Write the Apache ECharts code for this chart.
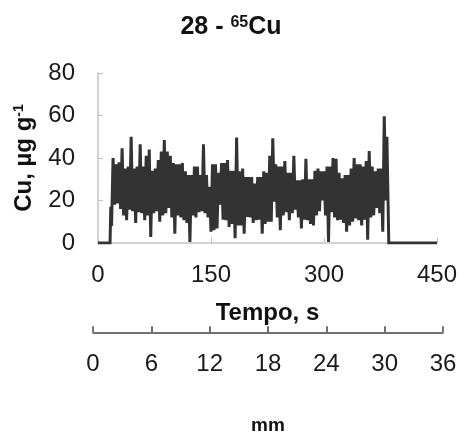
<!DOCTYPE html>
<html>
<head>
<meta charset="utf-8">
<script src="https://cdn.jsdelivr.net/npm/echarts@6/dist/echarts.min.js"></script>
<style>html,body{margin:0;padding:0;background:#fff}#c{width:465px;height:434px}</style>
</head>
<body>
<div id="c"></div>
<script>
// Signal samples (µg g-1)
var leadTimes = [0, 16, 17, 18];
var leadValues = [0, 0, 17, 8];
var sampleStart = 20;   // s, first sample of the oscillating band
var sampleStep = 4;     // s, spacing between successive upper readings
// upper readings at t = 20, 24, ... ; lower readings half a step later
var upperValues = [40,37,38,44.6,35,36,50,35,36,46.5,36,41,44,34,35,39,43,48.5,43,41,
  37.6,37,37,37.6,33.7,32,32,36,36,32,46.5,32,26.5,37,37,33,37.6,37.6,39,34,
  34,49.6,33.7,35,31,31,31,28,31,31,33.7,33,41,49.3,37,36,36,38.6,33,33,
  41,29.5,29.5,30,39.6,30,30,34,35,33.7,33.7,36,36,40,39.6,33,30.4,32,32,35,
  40,37,37,36,38.6,43.3,36,33.7,35,35,59.6];
var lowerValues = [18,18.6,16,13,10.7,15.7,15,9.4,14.5,14,10.7,13,2.8,14,15,10,13,14,16.5,12,
  4.4,13,12,10.7,9.4,0.5,13,12,14.5,15,14,12,5.3,6,6.9,18,11,10.7,7.6,9,
  2.2,8.3,8.3,4.4,12.3,12,9.4,10.7,11,4.4,9,10,10,19.4,12,6,13,14.5,10.7,14,
  15.7,12,6.9,11,10.7,9,8.3,13,15,20,13,0.5,14.5,12,10.7,11,9.4,5.3,8.3,10,
  11.5,10.7,8.3,11,1.5,12,13,16.5,14,5.3,20];
var tailTimes = [383.5, 385, 386, 450];
var tailValues = [50, 20, 0, 0];

var timeTicks = [0, 150, 300, 450];
var mmTicks = [0, 6, 12, 18, 24, 30, 36];
var yTicks = [0, 20, 40, 60, 80];

var data = [];
for (var i = 0; i < leadTimes.length; i++) data.push([leadTimes[i], leadValues[i]]);
for (var j = 0; j < upperValues.length; j++) {
  var t = sampleStart + j * sampleStep;
  data.push([t, upperValues[j]]);
  data.push([t + sampleStep / 2, lowerValues[j]]);
}
for (var k = 0; k < tailTimes.length; k++) data.push([tailTimes[k], tailValues[k]]);

var FONT = '"Liberation Sans", Arial, sans-serif';
var chart = echarts.init(document.getElementById('c'), null, {renderer: 'canvas'});
chart.setOption({
  animation: false,
  backgroundColor: '#fff',
  textStyle: {fontFamily: FONT},
  graphic: [{
    type: 'text',
    style: {
      x: 231, y: 27, text: '28 - {sup|65}Cu', textAlign: 'center', textVerticalAlign: 'middle',
      font: 'bold 25px ' + FONT, fill: '#111',
      rich: {sup: {fontSize: 16, fontWeight: 'bold', fontFamily: FONT, fill: '#111', verticalAlign: 'top', lineHeight: 16, padding: [0, 0, 8, 0]}}
    }
  }],
  grid: [
    {left: 98, width: 339, top: 73, height: 170},
    {left: 93, width: 350, top: 332, height: 1}
  ],
  xAxis: [{
    gridIndex: 0, type: 'value', min: timeTicks[0], max: timeTicks[timeTicks.length - 1],
    interval: timeTicks[1] - timeTicks[0],
    axisLine: {show: true, lineStyle: {color: '#c4c4c4', width: 1.5}},
    axisTick: {show: true, inside: true, length: 5, lineStyle: {color: '#c4c4c4', width: 1.2}},
    axisLabel: {fontSize: 24, color: '#1a1a1a', margin: 20, fontFamily: FONT},
    splitLine: {show: false},
    name: 'Tempo, s', nameLocation: 'middle', nameGap: 58,
    nameTextStyle: {fontSize: 24, fontWeight: 'bold', color: '#111', fontFamily: FONT}
  }, {
    gridIndex: 1, type: 'value', min: mmTicks[0], max: mmTicks[mmTicks.length - 1],
    interval: mmTicks[1] - mmTicks[0],
    axisLine: {show: true, lineStyle: {color: '#444', width: 1.5}},
    axisTick: {show: true, inside: true, length: 6, lineStyle: {color: '#444', width: 1.5}},
    axisLabel: {fontSize: 24, color: '#1a1a1a', margin: 20, fontFamily: FONT},
    splitLine: {show: false},
    name: 'mm', nameLocation: 'middle', nameGap: 84,
    nameTextStyle: {fontSize: 19, fontWeight: 'bold', color: '#111', fontFamily: FONT}
  }],
  yAxis: [{
    gridIndex: 0, type: 'value', min: yTicks[0], max: yTicks[yTicks.length - 1],
    interval: yTicks[1] - yTicks[0],
    axisLine: {show: true, lineStyle: {color: '#c4c4c4', width: 1.5}},
    axisTick: {show: true, inside: true, length: 5, lineStyle: {color: '#c4c4c4', width: 1.2}},
    axisLabel: {fontSize: 24, color: '#1a1a1a', margin: 23, fontFamily: FONT},
    splitLine: {show: false},
    name: 'Cu, µg g{sup|-1}', nameLocation: 'middle', nameGap: 62, nameRotate: 90,
    nameTextStyle: {fontSize: 24, fontWeight: 'bold', color: '#111', fontFamily: FONT,
      rich: {sup: {fontSize: 14, fontWeight: 'bold', color: '#111', fontFamily: FONT, verticalAlign: 'top', lineHeight: 14, padding: [0, 0, 8, 0]}}}
  }, {
    gridIndex: 1, type: 'value', show: false, min: 0, max: 1
  }],
  series: [{
    type: 'line', xAxisIndex: 0, yAxisIndex: 0, data: data,
    showSymbol: false, symbol: 'none',
    lineStyle: {color: '#333', width: 3, join: 'miter', cap: 'butt'}, z: 3
  }]
});
</script>
</body>
</html>
